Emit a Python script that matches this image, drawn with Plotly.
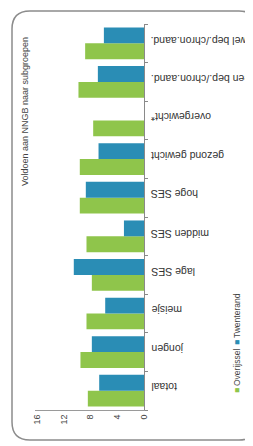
import plotly.graph_objects as go

categories = ["totaal", "jongen", "meisje", "lage SES", "midden SES", "hoge SES",
              "gezond gewicht", "overgewicht*", "geen bep./chron.aand.", "wel bep./chron.aand."]
overijssel = [8.4, 9.5, 8.6, 7.8, 8.6, 9.6, 9.6, 7.6, 9.8, 8.8]
twenterand = [6.7, 7.8, 5.8, 10.5, 3.0, 8.7, 6.8, None, 6.9, 6.0]
series_names = ["Overijssel", "Twenterand"]
x_ticks = [0, 4, 8, 12, 16]
title_text = "Voldoen aan NNGB naar subgroepen"

GREEN = "#8fc54b"
BLUE = "#2a8db5"

W, H = 253, 446
OFF = 8  # page body margin offset
L, R, T, B = 35 - OFF, 144 - OFF, 24 - OFF, 410 - OFF  # plot area in figure pixels
pw, ph = R - L, B - T

def px(x):
    return (x - OFF - L) / pw

def py(y):
    return (B - (y - OFF)) / ph

fig = go.Figure()
fig.add_trace(go.Bar(y=categories, x=overijssel, orientation="h", name=series_names[0],
                     marker=dict(color=GREEN, line=dict(width=0))))
fig.add_trace(go.Bar(y=categories, x=twenterand, orientation="h", name=series_names[1],
                     marker=dict(color=BLUE, line=dict(width=0))))

# rounded frame (screen coordinates)
r = 18
x0, x1, y0, y1 = 12, 257, 11, 440
rx, ry = r / pw, r / ph
path = (f"M {px(x0)+rx},{py(y0)} L {px(x1)-rx},{py(y0)} Q {px(x1)},{py(y0)} {px(x1)},{py(y0)-ry} "
        f"L {px(x1)},{py(y1)+ry} Q {px(x1)},{py(y1)} {px(x1)-rx},{py(y1)} "
        f"L {px(x0)+rx},{py(y1)} Q {px(x0)},{py(y1)} {px(x0)},{py(y1)+ry} "
        f"L {px(x0)},{py(y0)-ry} Q {px(x0)},{py(y0)} {px(x0)+rx},{py(y0)} Z")

LEG_X = 237
annotations = [
    dict(text=title_text, textangle=-90, x=px(25), y=py(112), xref="paper", yref="paper",
         xanchor="center", yanchor="middle",
         showarrow=False, font=dict(size=9, color="#444")),
]
legend_items = [
    ("■", GREEN, 391),
    (series_names[0], "#444", 368),
    ("■", BLUE, 343),
    (series_names[1], "#444", 316),
]
for txt, col, yc in legend_items:
    annotations.append(dict(text=txt, textangle=-90, x=px(LEG_X), y=py(yc), xref="paper",
                            yref="paper", xanchor="center", yanchor="middle", showarrow=False,
                            font=dict(size=8.5, color=col)))

for c in categories:
    annotations.append(dict(text=c, textangle=180, x=px(149), y=c, xref="paper", yref="y",
                            xanchor="left", yanchor="middle", yshift=3, showarrow=False,
                            font=dict(size=10.5, color="#333")))

fig.update_layout(
    width=W, height=H,
    margin=dict(l=L, r=W - R, t=T, b=H - B, pad=0),
    paper_bgcolor="white", plot_bgcolor="white",
    barmode="group", bargap=0.18, bargroupgap=0.0,
    showlegend=False,
    font=dict(family="Liberation Sans, Arial, sans-serif", color="#3a3a3a", size=9),
    xaxis=dict(range=[16.3, 0], tickvals=x_ticks, tickangle=-90, showgrid=False,
               zeroline=False, showline=True, linecolor="#9a9a9a", linewidth=1,
               ticks="", tickfont=dict(size=9, color="#444")),
    yaxis=dict(side="right", showticklabels=False, showgrid=False, showline=True,
               linecolor="#8a8a8a", linewidth=1, ticks="outside", tickson="boundaries",
               ticklen=3, tickcolor="#8a8a8a",
               categoryorder="array", categoryarray=categories),
    shapes=[dict(type="path", path=path, xref="paper", yref="paper",
                 line=dict(color="#8c8c8c", width=1.5), fillcolor="rgba(0,0,0,0)", layer="below")],
    annotations=annotations,
)

fig.write_html("out.html")
